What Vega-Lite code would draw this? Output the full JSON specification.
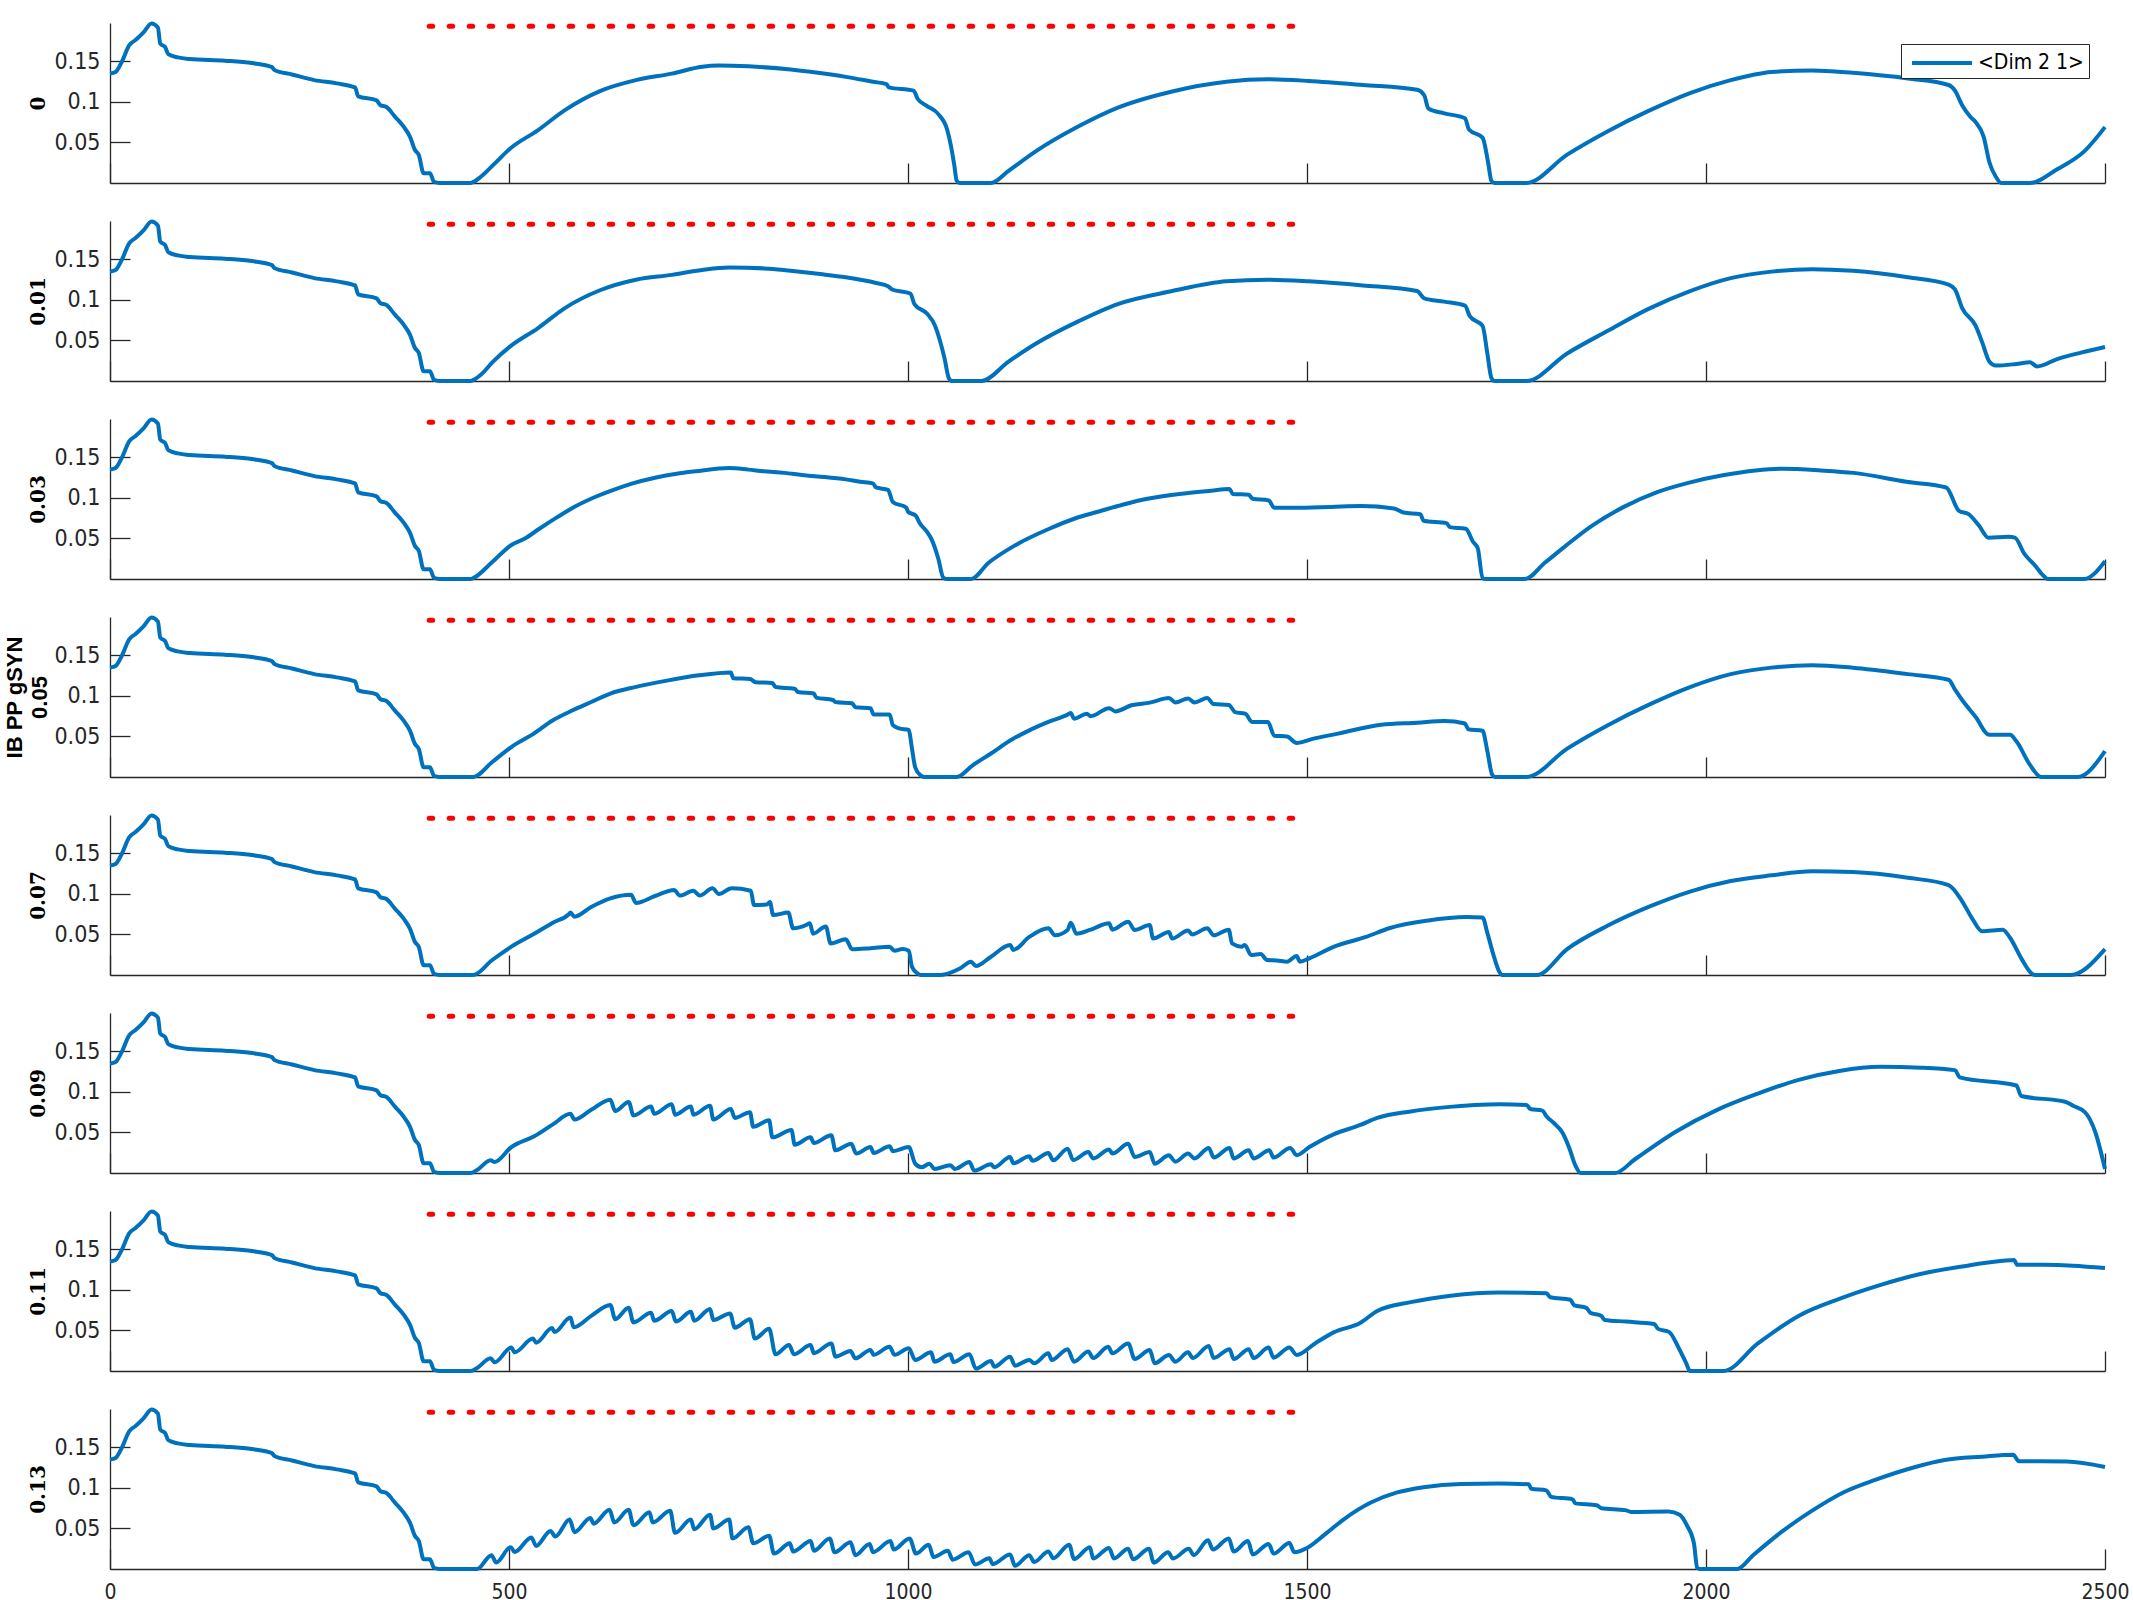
{
"$schema":"https://vega.github.io/schema/vega-lite/v6.json",
"background":"white",
"padding":{"left":3,"top":16,"right":5,"bottom":0},
"spacing":29,
"datasets":{
"ref":[{"x":400,"y":0.1935},{"x":1490,"y":0.1935}],
"main":[
{"p":"c","x":0,"y":0.135},{"p":"c","x":7,"y":0.137},{"p":"c","x":15,"y":0.150},{"p":"c","x":24,"y":0.170},{"p":"c","x":32,"y":0.1765},{"p":"c","x":42,"y":0.186},{"p":"c","x":52,"y":0.197},{"p":"c","x":60,"y":0.192},{"p":"c","x":63,"y":0.172},{"p":"c","x":69,"y":0.168},{"p":"c","x":73,"y":0.159},{"p":"c","x":85,"y":0.155},{"p":"c","x":100,"y":0.153},{"p":"c","x":144,"y":0.151},{"p":"c","x":178,"y":0.148},{"p":"c","x":203,"y":0.143},{"p":"c","x":206,"y":0.1395},{"p":"c","x":228,"y":0.134},{"p":"c","x":256,"y":0.127},{"p":"c","x":284,"y":0.123},{"p":"c","x":307,"y":0.118},{"p":"c","x":311,"y":0.107},{"p":"c","x":334,"y":0.102},{"p":"c","x":339,"y":0.096},{"p":"c","x":346,"y":0.094},{"p":"c","x":357,"y":0.082},{"p":"c","x":368,"y":0.0695},{"p":"c","x":376,"y":0.057},{"p":"c","x":382,"y":0.041},{"p":"c","x":387,"y":0.0345},{"p":"c","x":393,"y":0.012},{"p":"c","x":401,"y":0.012},{"p":"c","x":406,"y":0.0016},{"p":"c","x":413,"y":0},{"p":"c","x":452,"y":0},

{"p":"0","x":455,"y":0.001},{"p":"0","x":465,"y":0.008},{"p":"0","x":480,"y":0.022},{"p":"0","x":502,"y":0.043},{"p":"0","x":536,"y":0.065},{"p":"0","x":570,"y":0.090},{"p":"0","x":614,"y":0.1135},{"p":"0","x":659,"y":0.127},{"p":"0","x":704,"y":0.135},{"p":"0","x":742,"y":0.1436},{"p":"0","x":763,"y":0.145},{"p":"0","x":800,"y":0.144},{"p":"0","x":853,"y":0.140},{"p":"0","x":887,"y":0.136},{"p":"0","x":922,"y":0.131},{"p":"0","x":956,"y":0.125},{"p":"0","x":973,"y":0.122},{"p":"0","x":976,"y":0.118},{"p":"0","x":1007,"y":0.114},{"p":"0","x":1012,"y":0.104},{"p":"0","x":1024,"y":0.095},{"p":"0","x":1038,"y":0.085},{"p":"0","x":1049,"y":0.066},{"p":"0","x":1054,"y":0.045},{"p":"0","x":1058,"y":0.022},{"p":"0","x":1061,"y":0.003},{"p":"0","x":1065,"y":0},{"p":"0","x":1104,"y":0},{"p":"0","x":1126,"y":0.015},{"p":"0","x":1160,"y":0.039},{"p":"0","x":1212,"y":0.069},{"p":"0","x":1263,"y":0.093},{"p":"0","x":1331,"y":0.113},{"p":"0","x":1399,"y":0.125},{"p":"0","x":1451,"y":0.128},{"p":"0","x":1502,"y":0.126},{"p":"0","x":1570,"y":0.121},{"p":"0","x":1638,"y":0.115},{"p":"0","x":1647,"y":0.108},{"p":"0","x":1652,"y":0.092},{"p":"0","x":1672,"y":0.086},{"p":"0","x":1698,"y":0.080},{"p":"0","x":1703,"y":0.066},{"p":"0","x":1720,"y":0.056},{"p":"0","x":1727,"y":0.025},{"p":"0","x":1731,"y":0.003},{"p":"0","x":1735,"y":0},{"p":"0","x":1775,"y":0},{"p":"0","x":1826,"y":0.035},{"p":"0","x":1877,"y":0.064},{"p":"0","x":1928,"y":0.089},{"p":"0","x":1980,"y":0.111},{"p":"0","x":2031,"y":0.127},{"p":"0","x":2082,"y":0.137},{"p":"0","x":2133,"y":0.139},{"p":"0","x":2184,"y":0.136},{"p":"0","x":2253,"y":0.129},{"p":"0","x":2304,"y":0.121},{"p":"0","x":2312,"y":0.114},{"p":"0","x":2321,"y":0.096},{"p":"0","x":2331,"y":0.082},{"p":"0","x":2338,"y":0.075},{"p":"0","x":2348,"y":0.057},{"p":"0","x":2355,"y":0.026},{"p":"0","x":2363,"y":0.008},{"p":"0","x":2370,"y":0},{"p":"0","x":2406,"y":0},{"p":"0","x":2440,"y":0.017},{"p":"0","x":2474,"y":0.039},{"p":"0","x":2500,"y":0.069},

{"p":"0.01","x":455,"y":0.001},{"p":"0.01","x":465,"y":0.008},{"p":"0.01","x":480,"y":0.024},{"p":"0.01","x":502,"y":0.043},{"p":"0.01","x":536,"y":0.065},{"p":"0.01","x":570,"y":0.090},{"p":"0.01","x":614,"y":0.112},{"p":"0.01","x":659,"y":0.125},{"p":"0.01","x":704,"y":0.131},{"p":"0.01","x":742,"y":0.137},{"p":"0.01","x":776,"y":0.140},{"p":"0.01","x":820,"y":0.139},{"p":"0.01","x":853,"y":0.136},{"p":"0.01","x":890,"y":0.132},{"p":"0.01","x":922,"y":0.128},{"p":"0.01","x":960,"y":0.121},{"p":"0.01","x":975,"y":0.117},{"p":"0.01","x":980,"y":0.113},{"p":"0.01","x":1003,"y":0.108},{"p":"0.01","x":1008,"y":0.095},{"p":"0.01","x":1024,"y":0.083},{"p":"0.01","x":1034,"y":0.068},{"p":"0.01","x":1040,"y":0.05},{"p":"0.01","x":1046,"y":0.027},{"p":"0.01","x":1051,"y":0.004},{"p":"0.01","x":1055,"y":0},{"p":"0.01","x":1092,"y":0},{"p":"0.01","x":1126,"y":0.024},{"p":"0.01","x":1160,"y":0.046},{"p":"0.01","x":1212,"y":0.073},{"p":"0.01","x":1263,"y":0.095},{"p":"0.01","x":1331,"y":0.111},{"p":"0.01","x":1399,"y":0.123},{"p":"0.01","x":1451,"y":0.125},{"p":"0.01","x":1502,"y":0.123},{"p":"0.01","x":1570,"y":0.118},{"p":"0.01","x":1638,"y":0.111},{"p":"0.01","x":1647,"y":0.102},{"p":"0.01","x":1672,"y":0.098},{"p":"0.01","x":1698,"y":0.093},{"p":"0.01","x":1704,"y":0.080},{"p":"0.01","x":1720,"y":0.068},{"p":"0.01","x":1726,"y":0.034},{"p":"0.01","x":1731,"y":0.004},{"p":"0.01","x":1735,"y":0},{"p":"0.01","x":1775,"y":0},{"p":"0.01","x":1826,"y":0.034},{"p":"0.01","x":1877,"y":0.062},{"p":"0.01","x":1928,"y":0.089},{"p":"0.01","x":1980,"y":0.111},{"p":"0.01","x":2031,"y":0.127},{"p":"0.01","x":2082,"y":0.135},{"p":"0.01","x":2133,"y":0.138},{"p":"0.01","x":2184,"y":0.136},{"p":"0.01","x":2253,"y":0.128},{"p":"0.01","x":2304,"y":0.119},{"p":"0.01","x":2312,"y":0.113},{"p":"0.01","x":2321,"y":0.090},{"p":"0.01","x":2338,"y":0.068},{"p":"0.01","x":2346,"y":0.048},{"p":"0.01","x":2355,"y":0.024},{"p":"0.01","x":2363,"y":0.019},{"p":"0.01","x":2389,"y":0.021},{"p":"0.01","x":2406,"y":0.023},{"p":"0.01","x":2415,"y":0.018},{"p":"0.01","x":2440,"y":0.027},{"p":"0.01","x":2470,"y":0.035},{"p":"0.01","x":2500,"y":0.042},

{"p":"0.03","x":455,"y":0.001},{"p":"0.03","x":478,"y":0.02},{"p":"0.03","x":503,"y":0.042},{"p":"0.03","x":520,"y":0.05},{"p":"0.03","x":538,"y":0.062},{"p":"0.03","x":560,"y":0.076},{"p":"0.03","x":580,"y":0.088},{"p":"0.03","x":605,"y":0.1},{"p":"0.03","x":631,"y":0.11},{"p":"0.03","x":655,"y":0.118},{"p":"0.03","x":683,"y":0.125},{"p":"0.03","x":710,"y":0.13},{"p":"0.03","x":734,"y":0.133},{"p":"0.03","x":776,"y":0.137},{"p":"0.03","x":800,"y":0.135},{"p":"0.03","x":819,"y":0.133},{"p":"0.03","x":845,"y":0.131},{"p":"0.03","x":870,"y":0.128},{"p":"0.03","x":895,"y":0.126},{"p":"0.03","x":922,"y":0.123},{"p":"0.03","x":940,"y":0.12},{"p":"0.03","x":956,"y":0.118},{"p":"0.03","x":960,"y":0.113},{"p":"0.03","x":975,"y":0.110},{"p":"0.03","x":981,"y":0.095},{"p":"0.03","x":998,"y":0.088},{"p":"0.03","x":1000,"y":0.083},{"p":"0.03","x":1010,"y":0.078},{"p":"0.03","x":1014,"y":0.07},{"p":"0.03","x":1024,"y":0.058},{"p":"0.03","x":1030,"y":0.048},{"p":"0.03","x":1038,"y":0.025},{"p":"0.03","x":1044,"y":0.002},{"p":"0.03","x":1048,"y":0},{"p":"0.03","x":1079,"y":0},{"p":"0.03","x":1101,"y":0.02},{"p":"0.03","x":1135,"y":0.042},{"p":"0.03","x":1177,"y":0.062},{"p":"0.03","x":1210,"y":0.075},{"p":"0.03","x":1238,"y":0.083},{"p":"0.03","x":1270,"y":0.092},{"p":"0.03","x":1300,"y":0.099},{"p":"0.03","x":1340,"y":0.105},{"p":"0.03","x":1380,"y":0.109},{"p":"0.03","x":1403,"y":0.111},{"p":"0.03","x":1407,"y":0.105},{"p":"0.03","x":1427,"y":0.104},{"p":"0.03","x":1432,"y":0.099},{"p":"0.03","x":1452,"y":0.097},{"p":"0.03","x":1459,"y":0.088},{"p":"0.03","x":1485,"y":0.088},{"p":"0.03","x":1530,"y":0.089},{"p":"0.03","x":1568,"y":0.090},{"p":"0.03","x":1609,"y":0.087},{"p":"0.03","x":1621,"y":0.082},{"p":"0.03","x":1642,"y":0.080},{"p":"0.03","x":1646,"y":0.072},{"p":"0.03","x":1675,"y":0.069},{"p":"0.03","x":1679,"y":0.064},{"p":"0.03","x":1699,"y":0.062},{"p":"0.03","x":1708,"y":0.046},{"p":"0.03","x":1714,"y":0.038},{"p":"0.03","x":1720,"y":0.001},{"p":"0.03","x":1724,"y":0},{"p":"0.03","x":1773,"y":0},{"p":"0.03","x":1798,"y":0.020},{"p":"0.03","x":1823,"y":0.040},{"p":"0.03","x":1856,"y":0.065},{"p":"0.03","x":1897,"y":0.089},{"p":"0.03","x":1938,"y":0.107},{"p":"0.03","x":1979,"y":0.119},{"p":"0.03","x":2021,"y":0.128},{"p":"0.03","x":2062,"y":0.134},{"p":"0.03","x":2095,"y":0.136},{"p":"0.03","x":2144,"y":0.134},{"p":"0.03","x":2185,"y":0.131},{"p":"0.03","x":2251,"y":0.120},{"p":"0.03","x":2301,"y":0.113},{"p":"0.03","x":2317,"y":0.084},{"p":"0.03","x":2329,"y":0.080},{"p":"0.03","x":2342,"y":0.066},{"p":"0.03","x":2354,"y":0.051},{"p":"0.03","x":2379,"y":0.052},{"p":"0.03","x":2387,"y":0.051},{"p":"0.03","x":2399,"y":0.031},{"p":"0.03","x":2412,"y":0.017},{"p":"0.03","x":2424,"y":0.003},{"p":"0.03","x":2428,"y":0},{"p":"0.03","x":2474,"y":0},{"p":"0.03","x":2500,"y":0.022},

{"p":"0.05","x":455,"y":0},{"p":"0.05","x":479,"y":0.0185},{"p":"0.05","x":503,"y":0.037},{"p":"0.05","x":531,"y":0.0535},{"p":"0.05","x":555,"y":0.07},{"p":"0.05","x":579,"y":0.082},{"p":"0.05","x":603,"y":0.0926},{"p":"0.05","x":627,"y":0.103},{"p":"0.05","x":658,"y":0.111},{"p":"0.05","x":698,"y":0.119},{"p":"0.05","x":738,"y":0.1255},{"p":"0.05","x":778,"y":0.129},{"p":"0.05","x":781,"y":0.122},{"p":"0.05","x":802,"y":0.121},{"p":"0.05","x":809,"y":0.117},{"p":"0.05","x":830,"y":0.116},{"p":"0.05","x":834,"y":0.111},{"p":"0.05","x":858,"y":0.109},{"p":"0.05","x":862,"y":0.105},{"p":"0.05","x":882,"y":0.103},{"p":"0.05","x":885,"y":0.098},{"p":"0.05","x":906,"y":0.095},{"p":"0.05","x":909,"y":0.0926},{"p":"0.05","x":930,"y":0.091},{"p":"0.05","x":934,"y":0.086},{"p":"0.05","x":953,"y":0.085},{"p":"0.05","x":957,"y":0.077},{"p":"0.05","x":977,"y":0.077},{"p":"0.05","x":981,"y":0.064},{"p":"0.05","x":989,"y":0.06},{"p":"0.05","x":1001,"y":0.058},{"p":"0.05","x":1005,"y":0.035},{"p":"0.05","x":1009,"y":0.012},{"p":"0.05","x":1016,"y":0.002},{"p":"0.05","x":1020,"y":0},{"p":"0.05","x":1061,"y":0},{"p":"0.05","x":1081,"y":0.0144},{"p":"0.05","x":1104,"y":0.029},{"p":"0.05","x":1128,"y":0.045},{"p":"0.05","x":1152,"y":0.0576},{"p":"0.05","x":1176,"y":0.068},{"p":"0.05","x":1200,"y":0.077},{"p":"0.05","x":1204,"y":0.079},{"p":"0.05","x":1208,"y":0.072},{"p":"0.05","x":1224,"y":0.078},{"p":"0.05","x":1229,"y":0.075},{"p":"0.05","x":1252,"y":0.085},{"p":"0.05","x":1260,"y":0.081},{"p":"0.05","x":1280,"y":0.0885},{"p":"0.05","x":1303,"y":0.0918},{"p":"0.05","x":1327,"y":0.0975},{"p":"0.05","x":1335,"y":0.092},{"p":"0.05","x":1351,"y":0.097},{"p":"0.05","x":1359,"y":0.092},{"p":"0.05","x":1375,"y":0.0975},{"p":"0.05","x":1383,"y":0.09},{"p":"0.05","x":1402,"y":0.089},{"p":"0.05","x":1410,"y":0.08},{"p":"0.05","x":1423,"y":0.078},{"p":"0.05","x":1431,"y":0.068},{"p":"0.05","x":1451,"y":0.068},{"p":"0.05","x":1459,"y":0.051},{"p":"0.05","x":1475,"y":0.05},{"p":"0.05","x":1487,"y":0.042},{"p":"0.05","x":1507,"y":0.047},{"p":"0.05","x":1539,"y":0.0535},{"p":"0.05","x":1593,"y":0.0646},{"p":"0.05","x":1638,"y":0.067},{"p":"0.05","x":1672,"y":0.069},{"p":"0.05","x":1698,"y":0.066},{"p":"0.05","x":1702,"y":0.059},{"p":"0.05","x":1720,"y":0.057},{"p":"0.05","x":1726,"y":0.032},{"p":"0.05","x":1732,"y":0.003},{"p":"0.05","x":1736,"y":0},{"p":"0.05","x":1775,"y":0},{"p":"0.05","x":1826,"y":0.035},{"p":"0.05","x":1877,"y":0.064},{"p":"0.05","x":1928,"y":0.089},{"p":"0.05","x":1980,"y":0.111},{"p":"0.05","x":2031,"y":0.127},{"p":"0.05","x":2082,"y":0.135},{"p":"0.05","x":2133,"y":0.138},{"p":"0.05","x":2184,"y":0.135},{"p":"0.05","x":2253,"y":0.127},{"p":"0.05","x":2304,"y":0.12},{"p":"0.05","x":2312,"y":0.108},{"p":"0.05","x":2321,"y":0.095},{"p":"0.05","x":2338,"y":0.074},{"p":"0.05","x":2355,"y":0.052},{"p":"0.05","x":2381,"y":0.052},{"p":"0.05","x":2389,"y":0.044},{"p":"0.05","x":2406,"y":0.015},{"p":"0.05","x":2420,"y":0},{"p":"0.05","x":2466,"y":0},{"p":"0.05","x":2500,"y":0.032},

{"p":"0.07","x":455,"y":0},{"p":"0.07","x":479,"y":0.0185},{"p":"0.07","x":503,"y":0.035},{"p":"0.07","x":531,"y":0.0506},{"p":"0.07","x":555,"y":0.0646},{"p":"0.07","x":575,"y":0.075},{"p":"0.07","x":577,"y":0.077},{"p":"0.07","x":582,"y":0.072},{"p":"0.07","x":603,"y":0.084},{"p":"0.07","x":627,"y":0.0946},{"p":"0.07","x":653,"y":0.099},{"p":"0.07","x":659,"y":0.089},{"p":"0.07","x":683,"y":0.0975},{"p":"0.07","x":707,"y":0.105},{"p":"0.07","x":714,"y":0.098},{"p":"0.07","x":731,"y":0.104},{"p":"0.07","x":739,"y":0.098},{"p":"0.07","x":755,"y":0.107},{"p":"0.07","x":763,"y":0.1},{"p":"0.07","x":779,"y":0.107},{"p":"0.07","x":803,"y":0.104},{"p":"0.07","x":807,"y":0.0864},{"p":"0.07","x":823,"y":0.087},{"p":"0.07","x":827,"y":0.09},{"p":"0.07","x":831,"y":0.074},{"p":"0.07","x":850,"y":0.077},{"p":"0.07","x":856,"y":0.0576},{"p":"0.07","x":873,"y":0.062},{"p":"0.07","x":877,"y":0.064},{"p":"0.07","x":881,"y":0.051},{"p":"0.07","x":897,"y":0.060},{"p":"0.07","x":903,"y":0.039},{"p":"0.07","x":922,"y":0.044},{"p":"0.07","x":930,"y":0.0317},{"p":"0.07","x":953,"y":0.033},{"p":"0.07","x":977,"y":0.035},{"p":"0.07","x":983,"y":0.030},{"p":"0.07","x":993,"y":0.032},{"p":"0.07","x":1001,"y":0.030},{"p":"0.07","x":1005,"y":0.01},{"p":"0.07","x":1012,"y":0.002},{"p":"0.07","x":1016,"y":0},{"p":"0.07","x":1041,"y":0},{"p":"0.07","x":1065,"y":0.008},{"p":"0.07","x":1079,"y":0.0165},{"p":"0.07","x":1085,"y":0.011},{"p":"0.07","x":1104,"y":0.0226},{"p":"0.07","x":1128,"y":0.037},{"p":"0.07","x":1132,"y":0.031},{"p":"0.07","x":1152,"y":0.047},{"p":"0.07","x":1176,"y":0.0576},{"p":"0.07","x":1184,"y":0.049},{"p":"0.07","x":1200,"y":0.0556},{"p":"0.07","x":1204,"y":0.0646},{"p":"0.07","x":1211,"y":0.051},{"p":"0.07","x":1229,"y":0.056},{"p":"0.07","x":1252,"y":0.0638},{"p":"0.07","x":1256,"y":0.056},{"p":"0.07","x":1276,"y":0.0658},{"p":"0.07","x":1284,"y":0.0556},{"p":"0.07","x":1303,"y":0.0617},{"p":"0.07","x":1307,"y":0.045},{"p":"0.07","x":1327,"y":0.053},{"p":"0.07","x":1331,"y":0.045},{"p":"0.07","x":1351,"y":0.055},{"p":"0.07","x":1356,"y":0.050},{"p":"0.07","x":1375,"y":0.0576},{"p":"0.07","x":1383,"y":0.049},{"p":"0.07","x":1402,"y":0.056},{"p":"0.07","x":1406,"y":0.039},{"p":"0.07","x":1418,"y":0.035},{"p":"0.07","x":1422,"y":0.037},{"p":"0.07","x":1430,"y":0.0247},{"p":"0.07","x":1442,"y":0.026},{"p":"0.07","x":1450,"y":0.0185},{"p":"0.07","x":1462,"y":0.018},{"p":"0.07","x":1475,"y":0.0165},{"p":"0.07","x":1487,"y":0.0235},{"p":"0.07","x":1491,"y":0.0165},{"p":"0.07","x":1503,"y":0.0206},{"p":"0.07","x":1534,"y":0.035},{"p":"0.07","x":1574,"y":0.047},{"p":"0.07","x":1604,"y":0.058},{"p":"0.07","x":1650,"y":0.067},{"p":"0.07","x":1700,"y":0.0715},{"p":"0.07","x":1720,"y":0.071},{"p":"0.07","x":1726,"y":0.052},{"p":"0.07","x":1733,"y":0.027},{"p":"0.07","x":1741,"y":0.004},{"p":"0.07","x":1745,"y":0},{"p":"0.07","x":1788,"y":0},{"p":"0.07","x":1826,"y":0.032},{"p":"0.07","x":1877,"y":0.061},{"p":"0.07","x":1928,"y":0.084},{"p":"0.07","x":1980,"y":0.103},{"p":"0.07","x":2031,"y":0.116},{"p":"0.07","x":2082,"y":0.123},{"p":"0.07","x":2133,"y":0.128},{"p":"0.07","x":2184,"y":0.127},{"p":"0.07","x":2253,"y":0.12},{"p":"0.07","x":2304,"y":0.111},{"p":"0.07","x":2321,"y":0.091},{"p":"0.07","x":2334,"y":0.069},{"p":"0.07","x":2346,"y":0.054},{"p":"0.07","x":2372,"y":0.056},{"p":"0.07","x":2381,"y":0.046},{"p":"0.07","x":2396,"y":0.019},{"p":"0.07","x":2408,"y":0.002},{"p":"0.07","x":2412,"y":0},{"p":"0.07","x":2457,"y":0},{"p":"0.07","x":2500,"y":0.032},

{"p":"0.09","x":459,"y":0.003},{"p":"0.09","x":477,"y":0.0156},{"p":"0.09","x":482,"y":0.0136},{"p":"0.09","x":503,"y":0.032},{"p":"0.09","x":531,"y":0.045},{"p":"0.09","x":555,"y":0.060},{"p":"0.09","x":577,"y":0.073},{"p":"0.09","x":582,"y":0.066},{"p":"0.09","x":603,"y":0.078},{"p":"0.09","x":627,"y":0.0905},{"p":"0.09","x":633,"y":0.0765},{"p":"0.09","x":650,"y":0.0877},{"p":"0.09","x":656,"y":0.071},{"p":"0.09","x":678,"y":0.082},{"p":"0.09","x":682,"y":0.073},{"p":"0.09","x":704,"y":0.085},{"p":"0.09","x":708,"y":0.072},{"p":"0.09","x":728,"y":0.082},{"p":"0.09","x":731,"y":0.072},{"p":"0.09","x":752,"y":0.083},{"p":"0.09","x":756,"y":0.066},{"p":"0.09","x":778,"y":0.079},{"p":"0.09","x":783,"y":0.068},{"p":"0.09","x":802,"y":0.075},{"p":"0.09","x":806,"y":0.057},{"p":"0.09","x":826,"y":0.065},{"p":"0.09","x":830,"y":0.044},{"p":"0.09","x":854,"y":0.053},{"p":"0.09","x":858,"y":0.035},{"p":"0.09","x":878,"y":0.044},{"p":"0.09","x":882,"y":0.037},{"p":"0.09","x":904,"y":0.0465},{"p":"0.09","x":909,"y":0.028},{"p":"0.09","x":929,"y":0.036},{"p":"0.09","x":935,"y":0.024},{"p":"0.09","x":953,"y":0.032},{"p":"0.09","x":957,"y":0.0247},{"p":"0.09","x":977,"y":0.033},{"p":"0.09","x":981,"y":0.027},{"p":"0.09","x":1001,"y":0.032},{"p":"0.09","x":1009,"y":0.0115},{"p":"0.09","x":1017,"y":0.007},{"p":"0.09","x":1027,"y":0.0115},{"p":"0.09","x":1033,"y":0.005},{"p":"0.09","x":1053,"y":0.0095},{"p":"0.09","x":1059,"y":0.005},{"p":"0.09","x":1077,"y":0.0136},{"p":"0.09","x":1083,"y":0.003},{"p":"0.09","x":1104,"y":0.0107},{"p":"0.09","x":1108,"y":0.007},{"p":"0.09","x":1128,"y":0.0198},{"p":"0.09","x":1132,"y":0.012},{"p":"0.09","x":1152,"y":0.0206},{"p":"0.09","x":1156,"y":0.015},{"p":"0.09","x":1176,"y":0.0247},{"p":"0.09","x":1182,"y":0.0156},{"p":"0.09","x":1200,"y":0.030},{"p":"0.09","x":1207,"y":0.016},{"p":"0.09","x":1226,"y":0.026},{"p":"0.09","x":1232,"y":0.018},{"p":"0.09","x":1252,"y":0.029},{"p":"0.09","x":1256,"y":0.024},{"p":"0.09","x":1276,"y":0.036},{"p":"0.09","x":1284,"y":0.0198},{"p":"0.09","x":1303,"y":0.026},{"p":"0.09","x":1309,"y":0.0115},{"p":"0.09","x":1327,"y":0.0218},{"p":"0.09","x":1335,"y":0.014},{"p":"0.09","x":1351,"y":0.024},{"p":"0.09","x":1359,"y":0.018},{"p":"0.09","x":1377,"y":0.031},{"p":"0.09","x":1383,"y":0.019},{"p":"0.09","x":1403,"y":0.031},{"p":"0.09","x":1408,"y":0.018},{"p":"0.09","x":1427,"y":0.028},{"p":"0.09","x":1433,"y":0.018},{"p":"0.09","x":1453,"y":0.028},{"p":"0.09","x":1458,"y":0.019},{"p":"0.09","x":1479,"y":0.031},{"p":"0.09","x":1487,"y":0.022},{"p":"0.09","x":1503,"y":0.032},{"p":"0.09","x":1534,"y":0.048},{"p":"0.09","x":1566,"y":0.059},{"p":"0.09","x":1588,"y":0.068},{"p":"0.09","x":1630,"y":0.076},{"p":"0.09","x":1672,"y":0.081},{"p":"0.09","x":1710,"y":0.084},{"p":"0.09","x":1741,"y":0.085},{"p":"0.09","x":1775,"y":0.084},{"p":"0.09","x":1780,"y":0.079},{"p":"0.09","x":1795,"y":0.077},{"p":"0.09","x":1800,"y":0.070},{"p":"0.09","x":1809,"y":0.062},{"p":"0.09","x":1820,"y":0.05},{"p":"0.09","x":1829,"y":0.03},{"p":"0.09","x":1836,"y":0.01},{"p":"0.09","x":1843,"y":0},{"p":"0.09","x":1886,"y":0},{"p":"0.09","x":1911,"y":0.017},{"p":"0.09","x":1962,"y":0.051},{"p":"0.09","x":2014,"y":0.078},{"p":"0.09","x":2065,"y":0.098},{"p":"0.09","x":2116,"y":0.115},{"p":"0.09","x":2167,"y":0.126},{"p":"0.09","x":2218,"y":0.131},{"p":"0.09","x":2270,"y":0.13},{"p":"0.09","x":2312,"y":0.127},{"p":"0.09","x":2318,"y":0.118},{"p":"0.09","x":2389,"y":0.108},{"p":"0.09","x":2395,"y":0.095},{"p":"0.09","x":2450,"y":0.088},{"p":"0.09","x":2460,"y":0.083},{"p":"0.09","x":2475,"y":0.075},{"p":"0.09","x":2488,"y":0.05},{"p":"0.09","x":2500,"y":0.005},

{"p":"0.11","x":459,"y":0.003},{"p":"0.11","x":477,"y":0.0156},{"p":"0.11","x":482,"y":0.0107},{"p":"0.11","x":503,"y":0.029},{"p":"0.11","x":507,"y":0.023},{"p":"0.11","x":530,"y":0.040},{"p":"0.11","x":534,"y":0.035},{"p":"0.11","x":554,"y":0.053},{"p":"0.11","x":557,"y":0.048},{"p":"0.11","x":577,"y":0.066},{"p":"0.11","x":581,"y":0.054},{"p":"0.11","x":603,"y":0.068},{"p":"0.11","x":627,"y":0.0815},{"p":"0.11","x":633,"y":0.064},{"p":"0.11","x":650,"y":0.078},{"p":"0.11","x":656,"y":0.060},{"p":"0.11","x":678,"y":0.072},{"p":"0.11","x":682,"y":0.062},{"p":"0.11","x":704,"y":0.074},{"p":"0.11","x":709,"y":0.061},{"p":"0.11","x":728,"y":0.073},{"p":"0.11","x":732,"y":0.062},{"p":"0.11","x":752,"y":0.0765},{"p":"0.11","x":756,"y":0.063},{"p":"0.11","x":777,"y":0.071},{"p":"0.11","x":783,"y":0.0535},{"p":"0.11","x":802,"y":0.064},{"p":"0.11","x":808,"y":0.040},{"p":"0.11","x":826,"y":0.052},{"p":"0.11","x":834,"y":0.0206},{"p":"0.11","x":851,"y":0.032},{"p":"0.11","x":857,"y":0.0206},{"p":"0.11","x":878,"y":0.032},{"p":"0.11","x":882,"y":0.022},{"p":"0.11","x":904,"y":0.034},{"p":"0.11","x":909,"y":0.0177},{"p":"0.11","x":928,"y":0.0247},{"p":"0.11","x":934,"y":0.0156},{"p":"0.11","x":953,"y":0.026},{"p":"0.11","x":957,"y":0.02},{"p":"0.11","x":977,"y":0.030},{"p":"0.11","x":983,"y":0.02},{"p":"0.11","x":1001,"y":0.028},{"p":"0.11","x":1009,"y":0.0136},{"p":"0.11","x":1029,"y":0.023},{"p":"0.11","x":1033,"y":0.0115},{"p":"0.11","x":1053,"y":0.0206},{"p":"0.11","x":1057,"y":0.011},{"p":"0.11","x":1077,"y":0.0206},{"p":"0.11","x":1085,"y":0.003},{"p":"0.11","x":1104,"y":0.0123},{"p":"0.11","x":1108,"y":0.0053},{"p":"0.11","x":1128,"y":0.0177},{"p":"0.11","x":1134,"y":0.0066},{"p":"0.11","x":1152,"y":0.0136},{"p":"0.11","x":1158,"y":0.0095},{"p":"0.11","x":1176,"y":0.0218},{"p":"0.11","x":1180,"y":0.0136},{"p":"0.11","x":1200,"y":0.027},{"p":"0.11","x":1208,"y":0.0115},{"p":"0.11","x":1226,"y":0.024},{"p":"0.11","x":1232,"y":0.016},{"p":"0.11","x":1251,"y":0.030},{"p":"0.11","x":1256,"y":0.0218},{"p":"0.11","x":1276,"y":0.034},{"p":"0.11","x":1284,"y":0.0148},{"p":"0.11","x":1303,"y":0.026},{"p":"0.11","x":1309,"y":0.0095},{"p":"0.11","x":1327,"y":0.0198},{"p":"0.11","x":1335,"y":0.0115},{"p":"0.11","x":1351,"y":0.023},{"p":"0.11","x":1357,"y":0.016},{"p":"0.11","x":1377,"y":0.031},{"p":"0.11","x":1383,"y":0.016},{"p":"0.11","x":1403,"y":0.027},{"p":"0.11","x":1408,"y":0.0148},{"p":"0.11","x":1427,"y":0.027},{"p":"0.11","x":1433,"y":0.016},{"p":"0.11","x":1452,"y":0.029},{"p":"0.11","x":1458,"y":0.0165},{"p":"0.11","x":1478,"y":0.029},{"p":"0.11","x":1487,"y":0.0198},{"p":"0.11","x":1510,"y":0.034},{"p":"0.11","x":1534,"y":0.048},{"p":"0.11","x":1566,"y":0.059},{"p":"0.11","x":1588,"y":0.074},{"p":"0.11","x":1630,"y":0.085},{"p":"0.11","x":1680,"y":0.093},{"p":"0.11","x":1741,"y":0.097},{"p":"0.11","x":1800,"y":0.096},{"p":"0.11","x":1805,"y":0.091},{"p":"0.11","x":1830,"y":0.088},{"p":"0.11","x":1835,"y":0.081},{"p":"0.11","x":1850,"y":0.078},{"p":"0.11","x":1855,"y":0.072},{"p":"0.11","x":1869,"y":0.068},{"p":"0.11","x":1873,"y":0.063},{"p":"0.11","x":1900,"y":0.061},{"p":"0.11","x":1935,"y":0.058},{"p":"0.11","x":1940,"y":0.052},{"p":"0.11","x":1954,"y":0.048},{"p":"0.11","x":1965,"y":0.03},{"p":"0.11","x":1975,"y":0.01},{"p":"0.11","x":1980,"y":0},{"p":"0.11","x":2022,"y":0},{"p":"0.11","x":2065,"y":0.034},{"p":"0.11","x":2116,"y":0.068},{"p":"0.11","x":2167,"y":0.089},{"p":"0.11","x":2218,"y":0.106},{"p":"0.11","x":2270,"y":0.12},{"p":"0.11","x":2321,"y":0.129},{"p":"0.11","x":2372,"y":0.136},{"p":"0.11","x":2386,"y":0.137},{"p":"0.11","x":2390,"y":0.131},{"p":"0.11","x":2423,"y":0.131},{"p":"0.11","x":2460,"y":0.13},{"p":"0.11","x":2500,"y":0.127},

{"p":"0.13","x":460,"y":0},{"p":"0.13","x":478,"y":0.017},{"p":"0.13","x":484,"y":0.008},{"p":"0.13","x":502,"y":0.027},{"p":"0.13","x":507,"y":0.021},{"p":"0.13","x":528,"y":0.039},{"p":"0.13","x":534,"y":0.0285},{"p":"0.13","x":552,"y":0.047},{"p":"0.13","x":558,"y":0.040},{"p":"0.13","x":576,"y":0.061},{"p":"0.13","x":582,"y":0.0455},{"p":"0.13","x":602,"y":0.063},{"p":"0.13","x":606,"y":0.056},{"p":"0.13","x":626,"y":0.073},{"p":"0.13","x":632,"y":0.0575},{"p":"0.13","x":650,"y":0.073},{"p":"0.13","x":656,"y":0.054},{"p":"0.13","x":676,"y":0.070},{"p":"0.13","x":680,"y":0.0575},{"p":"0.13","x":702,"y":0.072},{"p":"0.13","x":708,"y":0.0446},{"p":"0.13","x":728,"y":0.061},{"p":"0.13","x":732,"y":0.049},{"p":"0.13","x":752,"y":0.067},{"p":"0.13","x":756,"y":0.050},{"p":"0.13","x":776,"y":0.061},{"p":"0.13","x":780,"y":0.0377},{"p":"0.13","x":800,"y":0.0515},{"p":"0.13","x":806,"y":0.0317},{"p":"0.13","x":826,"y":0.041},{"p":"0.13","x":832,"y":0.019},{"p":"0.13","x":852,"y":0.0317},{"p":"0.13","x":856,"y":0.0216},{"p":"0.13","x":878,"y":0.0345},{"p":"0.13","x":882,"y":0.0225},{"p":"0.13","x":902,"y":0.0377},{"p":"0.13","x":908,"y":0.0207},{"p":"0.13","x":928,"y":0.033},{"p":"0.13","x":934,"y":0.017},{"p":"0.13","x":952,"y":0.031},{"p":"0.13","x":956,"y":0.0207},{"p":"0.13","x":978,"y":0.0345},{"p":"0.13","x":982,"y":0.024},{"p":"0.13","x":1002,"y":0.0377},{"p":"0.13","x":1010,"y":0.019},{"p":"0.13","x":1026,"y":0.030},{"p":"0.13","x":1032,"y":0.0147},{"p":"0.13","x":1050,"y":0.0225},{"p":"0.13","x":1056,"y":0.0115},{"p":"0.13","x":1076,"y":0.0207},{"p":"0.13","x":1084,"y":0.0055},{"p":"0.13","x":1102,"y":0.0133},{"p":"0.13","x":1106,"y":0.006},{"p":"0.13","x":1128,"y":0.018},{"p":"0.13","x":1134,"y":0.004},{"p":"0.13","x":1152,"y":0.017},{"p":"0.13","x":1158,"y":0.0087},{"p":"0.13","x":1176,"y":0.0216},{"p":"0.13","x":1182,"y":0.0133},{"p":"0.13","x":1202,"y":0.030},{"p":"0.13","x":1208,"y":0.0124},{"p":"0.13","x":1228,"y":0.027},{"p":"0.13","x":1232,"y":0.013},{"p":"0.13","x":1252,"y":0.026},{"p":"0.13","x":1258,"y":0.013},{"p":"0.13","x":1276,"y":0.025},{"p":"0.13","x":1282,"y":0.012},{"p":"0.13","x":1302,"y":0.025},{"p":"0.13","x":1308,"y":0.0078},{"p":"0.13","x":1326,"y":0.0207},{"p":"0.13","x":1332,"y":0.013},{"p":"0.13","x":1352,"y":0.025},{"p":"0.13","x":1358,"y":0.017},{"p":"0.13","x":1376,"y":0.0354},{"p":"0.13","x":1382,"y":0.024},{"p":"0.13","x":1402,"y":0.0377},{"p":"0.13","x":1408,"y":0.0216},{"p":"0.13","x":1426,"y":0.0345},{"p":"0.13","x":1432,"y":0.018},{"p":"0.13","x":1452,"y":0.031},{"p":"0.13","x":1458,"y":0.019},{"p":"0.13","x":1478,"y":0.032},{"p":"0.13","x":1484,"y":0.0207},{"p":"0.13","x":1500,"y":0.026},{"p":"0.13","x":1524,"y":0.044},{"p":"0.13","x":1547,"y":0.062},{"p":"0.13","x":1580,"y":0.082},{"p":"0.13","x":1613,"y":0.0945},{"p":"0.13","x":1646,"y":0.101},{"p":"0.13","x":1693,"y":0.105},{"p":"0.13","x":1740,"y":0.1055},{"p":"0.13","x":1778,"y":0.1045},{"p":"0.13","x":1781,"y":0.099},{"p":"0.13","x":1800,"y":0.097},{"p":"0.13","x":1806,"y":0.089},{"p":"0.13","x":1833,"y":0.086},{"p":"0.13","x":1836,"y":0.081},{"p":"0.13","x":1863,"y":0.0786},{"p":"0.13","x":1869,"y":0.075},{"p":"0.13","x":1899,"y":0.0727},{"p":"0.13","x":1906,"y":0.0705},{"p":"0.13","x":1953,"y":0.071},{"p":"0.13","x":1967,"y":0.067},{"p":"0.13","x":1976,"y":0.054},{"p":"0.13","x":1985,"y":0.031},{"p":"0.13","x":1989,"y":0.001},{"p":"0.13","x":1992,"y":0},{"p":"0.13","x":2039,"y":0},{"p":"0.13","x":2059,"y":0.017},{"p":"0.13","x":2093,"y":0.0445},{"p":"0.13","x":2133,"y":0.072},{"p":"0.13","x":2172,"y":0.0945},{"p":"0.13","x":2212,"y":0.110},{"p":"0.13","x":2259,"y":0.125},{"p":"0.13","x":2299,"y":0.1345},{"p":"0.13","x":2346,"y":0.1386},{"p":"0.13","x":2385,"y":0.141},{"p":"0.13","x":2392,"y":0.133},{"p":"0.13","x":2452,"y":0.1327},{"p":"0.13","x":2500,"y":0.126}
]},
"vconcat":[
{"width":1995,"height":160,
 "encoding":{"x":{"field":"x","type":"quantitative","scale":{"domain":[0,2500],"nice":false},"axis":{"values":[0,500,1000,1500,2000,2500],"title":null,"labels":false,"tickSize":-20}},
  "y":{"field":"y","type":"quantitative","scale":{"domain":[0,0.1975],"nice":false},"axis":{"values":[0.05,0.1,0.15],"format":".2~f","title":"0","tickSize":-20,"labelPadding":30,"titlePadding":5,"titleFont":"DejaVu Serif","titleFontWeight":"bold","titleFontSize":20,"titleColor":"#000000"}}},
 "layer":[
  {"data":{"name":"ref"},"mark":{"type":"line","color":"#FF0000","strokeWidth":5,"strokeDash":[3.5,16.5],"strokeCap":"round"}},
  {"data":{"name":"main"},"transform":[{"filter":"datum.p=='c'||datum.p=='0'"}],"mark":{"type":"line","strokeWidth":4,"strokeJoin":"round","interpolate":"monotone"},
   "encoding":{"color":{"datum":"<Dim 2 1>","type":"nominal","scale":{"range":["#0072BD"]},"legend":{"orient":"none","legendX":1791,"legendY":21,"title":null,"symbolType":"M-2.5,0H2.5","symbolStrokeWidth":4,"symbolSize":576,"symbolOffset":22,"labelFont":"DejaVu Sans Condensed","labelFontSize":21,"labelColor":"#000000","strokeColor":"#262626","fillColor":"#ffffff","padding":5,"labelOffset":22}}}}
 ]},
{"width":1995,"height":160,
 "encoding":{"x":{"field":"x","type":"quantitative","scale":{"domain":[0,2500],"nice":false},"axis":{"values":[0,500,1000,1500,2000,2500],"title":null,"labels":false,"tickSize":-20}},
  "y":{"field":"y","type":"quantitative","scale":{"domain":[0,0.1975],"nice":false},"axis":{"values":[0.05,0.1,0.15],"format":".2~f","title":"0.01","tickSize":-20,"labelPadding":30,"titlePadding":5,"titleFont":"DejaVu Serif","titleFontWeight":"bold","titleFontSize":20,"titleColor":"#000000"}}},
 "layer":[
  {"data":{"name":"ref"},"mark":{"type":"line","color":"#FF0000","strokeWidth":5,"strokeDash":[3.5,16.5],"strokeCap":"round"}},
  {"data":{"name":"main"},"transform":[{"filter":"datum.p=='c'||datum.p=='0.01'"}],"mark":{"type":"line","color":"#0072BD","strokeWidth":4,"strokeJoin":"round","interpolate":"monotone"}}
 ]},
{"width":1995,"height":160,
 "encoding":{"x":{"field":"x","type":"quantitative","scale":{"domain":[0,2500],"nice":false},"axis":{"values":[0,500,1000,1500,2000,2500],"title":null,"labels":false,"tickSize":-20}},
  "y":{"field":"y","type":"quantitative","scale":{"domain":[0,0.1975],"nice":false},"axis":{"values":[0.05,0.1,0.15],"format":".2~f","title":"0.03","tickSize":-20,"labelPadding":30,"titlePadding":5,"titleFont":"DejaVu Serif","titleFontWeight":"bold","titleFontSize":20,"titleColor":"#000000"}}},
 "layer":[
  {"data":{"name":"ref"},"mark":{"type":"line","color":"#FF0000","strokeWidth":5,"strokeDash":[3.5,16.5],"strokeCap":"round"}},
  {"data":{"name":"main"},"transform":[{"filter":"datum.p=='c'||datum.p=='0.03'"}],"mark":{"type":"line","color":"#0072BD","strokeWidth":4,"strokeJoin":"round","interpolate":"monotone"}}
 ]},
{"width":1995,"height":160,
 "encoding":{"x":{"field":"x","type":"quantitative","scale":{"domain":[0,2500],"nice":false},"axis":{"values":[0,500,1000,1500,2000,2500],"title":null,"labels":false,"tickSize":-20}},
  "y":{"field":"y","type":"quantitative","scale":{"domain":[0,0.1975],"nice":false},"axis":{"values":[0.05,0.1,0.15],"format":".2~f","title":["IB PP gSYN","0.05"],"tickSize":-20,"labelPadding":30,"titlePadding":2,"titleFont":"Liberation Sans","titleFontWeight":"bold","titleFontSize":22,"titleLineHeight":25,"titleColor":"#000000"}}},
 "layer":[
  {"data":{"name":"ref"},"mark":{"type":"line","color":"#FF0000","strokeWidth":5,"strokeDash":[3.5,16.5],"strokeCap":"round"}},
  {"data":{"name":"main"},"transform":[{"filter":"datum.p=='c'||datum.p=='0.05'"}],"mark":{"type":"line","color":"#0072BD","strokeWidth":4,"strokeJoin":"round","interpolate":"monotone"}}
 ]},
{"width":1995,"height":160,
 "encoding":{"x":{"field":"x","type":"quantitative","scale":{"domain":[0,2500],"nice":false},"axis":{"values":[0,500,1000,1500,2000,2500],"title":null,"labels":false,"tickSize":-20}},
  "y":{"field":"y","type":"quantitative","scale":{"domain":[0,0.1975],"nice":false},"axis":{"values":[0.05,0.1,0.15],"format":".2~f","title":"0.07","tickSize":-20,"labelPadding":30,"titlePadding":5,"titleFont":"DejaVu Serif","titleFontWeight":"bold","titleFontSize":20,"titleColor":"#000000"}}},
 "layer":[
  {"data":{"name":"ref"},"mark":{"type":"line","color":"#FF0000","strokeWidth":5,"strokeDash":[3.5,16.5],"strokeCap":"round"}},
  {"data":{"name":"main"},"transform":[{"filter":"datum.p=='c'||datum.p=='0.07'"}],"mark":{"type":"line","color":"#0072BD","strokeWidth":4,"strokeJoin":"round","interpolate":"monotone"}}
 ]},
{"width":1995,"height":160,
 "encoding":{"x":{"field":"x","type":"quantitative","scale":{"domain":[0,2500],"nice":false},"axis":{"values":[0,500,1000,1500,2000,2500],"title":null,"labels":false,"tickSize":-20}},
  "y":{"field":"y","type":"quantitative","scale":{"domain":[0,0.1975],"nice":false},"axis":{"values":[0.05,0.1,0.15],"format":".2~f","title":"0.09","tickSize":-20,"labelPadding":30,"titlePadding":5,"titleFont":"DejaVu Serif","titleFontWeight":"bold","titleFontSize":20,"titleColor":"#000000"}}},
 "layer":[
  {"data":{"name":"ref"},"mark":{"type":"line","color":"#FF0000","strokeWidth":5,"strokeDash":[3.5,16.5],"strokeCap":"round"}},
  {"data":{"name":"main"},"transform":[{"filter":"datum.p=='c'||datum.p=='0.09'"}],"mark":{"type":"line","color":"#0072BD","strokeWidth":4,"strokeJoin":"round","interpolate":"monotone"}}
 ]},
{"width":1995,"height":160,
 "encoding":{"x":{"field":"x","type":"quantitative","scale":{"domain":[0,2500],"nice":false},"axis":{"values":[0,500,1000,1500,2000,2500],"title":null,"labels":false,"tickSize":-20}},
  "y":{"field":"y","type":"quantitative","scale":{"domain":[0,0.1975],"nice":false},"axis":{"values":[0.05,0.1,0.15],"format":".2~f","title":"0.11","tickSize":-20,"labelPadding":30,"titlePadding":5,"titleFont":"DejaVu Serif","titleFontWeight":"bold","titleFontSize":20,"titleColor":"#000000"}}},
 "layer":[
  {"data":{"name":"ref"},"mark":{"type":"line","color":"#FF0000","strokeWidth":5,"strokeDash":[3.5,16.5],"strokeCap":"round"}},
  {"data":{"name":"main"},"transform":[{"filter":"datum.p=='c'||datum.p=='0.11'"}],"mark":{"type":"line","color":"#0072BD","strokeWidth":4,"strokeJoin":"round","interpolate":"monotone"}}
 ]},
{"width":1995,"height":160,
 "encoding":{"x":{"field":"x","type":"quantitative","scale":{"domain":[0,2500],"nice":false},"axis":{"values":[0,500,1000,1500,2000,2500],"format":"d","title":null,"labels":true,"tickSize":-20,"labelPadding":32,"labelFontSize":21}},
  "y":{"field":"y","type":"quantitative","scale":{"domain":[0,0.1975],"nice":false},"axis":{"values":[0.05,0.1,0.15],"format":".2~f","title":"0.13","tickSize":-20,"labelPadding":30,"titlePadding":5,"titleFont":"DejaVu Serif","titleFontWeight":"bold","titleFontSize":20,"titleColor":"#000000"}}},
 "layer":[
  {"data":{"name":"ref"},"mark":{"type":"line","color":"#FF0000","strokeWidth":5,"strokeDash":[3.5,16.5],"strokeCap":"round"}},
  {"data":{"name":"main"},"transform":[{"filter":"datum.p=='c'||datum.p=='0.13'"}],"mark":{"type":"line","color":"#0072BD","strokeWidth":4,"strokeJoin":"round","interpolate":"monotone"}}
 ]}
],
"resolve":{"scale":{"color":"independent"},"legend":{"color":"independent"}},
"config":{
 "view":{"stroke":null},
 "axis":{"grid":false,"domainColor":"#262626","domainWidth":1.3,"tickColor":"#262626","tickWidth":1.3,"labelColor":"#262626","labelFont":"DejaVu Sans Condensed","labelFontSize":23,"labelFlush":false,"labelOverlap":false}
}
}
